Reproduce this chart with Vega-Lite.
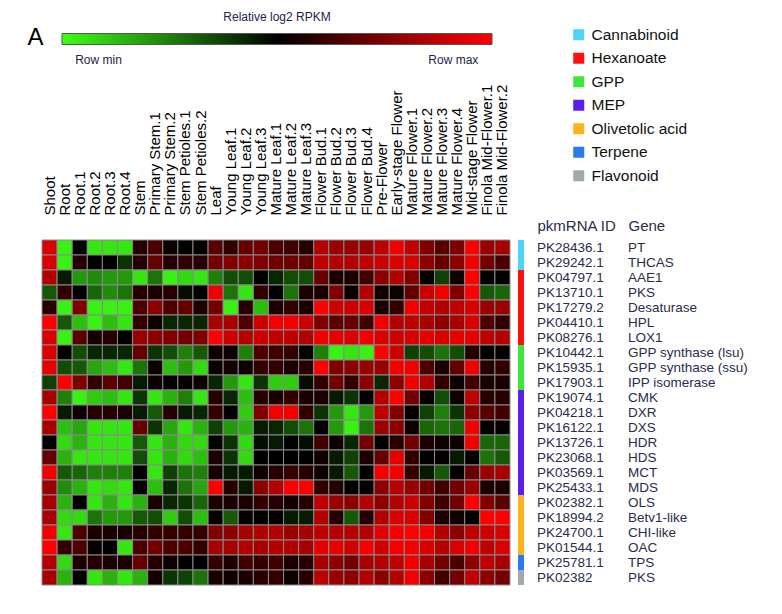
{
"$schema": "https://vega.github.io/schema/vega-lite/v6.json",
"background": "white",
"padding": {"left": 27, "top": 11, "right": 5, "bottom": 5},
"bounds": "flush",
"spacing": 8,
"title": {"text": "A", "anchor": "start", "fontSize": 24, "font": "Liberation Sans", "fontWeight": "normal", "color": "#000000", "dx": -14, "dy": 42},
"config": {"view": {"stroke": null}, "font": "Liberation Sans"},
"datasets": {
"genes": [
{"r":0,"id":"PK28436.1","gene":"PT","path":"Cannabinoid"},
{"r":1,"id":"PK29242.1","gene":"THCAS","path":"Cannabinoid"},
{"r":2,"id":"PK04797.1","gene":"AAE1","path":"Hexanoate"},
{"r":3,"id":"PK13710.1","gene":"PKS","path":"Hexanoate"},
{"r":4,"id":"PK17279.2","gene":"Desaturase","path":"Hexanoate"},
{"r":5,"id":"PK04410.1","gene":"HPL","path":"Hexanoate"},
{"r":6,"id":"PK08276.1","gene":"LOX1","path":"Hexanoate"},
{"r":7,"id":"PK10442.1","gene":"GPP synthase (lsu)","path":"GPP"},
{"r":8,"id":"PK15935.1","gene":"GPP synthase (ssu)","path":"GPP"},
{"r":9,"id":"PK17903.1","gene":"IPP isomerase","path":"GPP"},
{"r":10,"id":"PK19074.1","gene":"CMK","path":"MEP"},
{"r":11,"id":"PK04218.1","gene":"DXR","path":"MEP"},
{"r":12,"id":"PK16122.1","gene":"DXS","path":"MEP"},
{"r":13,"id":"PK13726.1","gene":"HDR","path":"MEP"},
{"r":14,"id":"PK23068.1","gene":"HDS","path":"MEP"},
{"r":15,"id":"PK03569.1","gene":"MCT","path":"MEP"},
{"r":16,"id":"PK25433.1","gene":"MDS","path":"MEP"},
{"r":17,"id":"PK02382.1","gene":"OLS","path":"Olivetolic acid"},
{"r":18,"id":"PK18994.2","gene":"Betv1-like","path":"Olivetolic acid"},
{"r":19,"id":"PK24700.1","gene":"CHI-like","path":"Olivetolic acid"},
{"r":20,"id":"PK01544.1","gene":"OAC","path":"Olivetolic acid"},
{"r":21,"id":"PK25781.1","gene":"TPS","path":"Terpene"},
{"r":22,"id":"PK02382","gene":"PKS","path":"Flavonoid"}
],
"cells": [
{"r":0,"c":0,"v":0.85},{"r":0,"c":1,"v":-0.95},{"r":0,"c":2,"v":0},{"r":0,"c":3,"v":-0.9},{"r":0,"c":4,"v":-0.9},{"r":0,"c":5,"v":-0.9},{"r":0,"c":6,"v":0.15},{"r":0,"c":7,"v":0.3},{"r":0,"c":8,"v":0.05},{"r":0,"c":9,"v":0},{"r":0,"c":10,"v":0.02},{"r":0,"c":11,"v":0.35},{"r":0,"c":12,"v":0.2},{"r":0,"c":13,"v":0.4},{"r":0,"c":14,"v":0.45},{"r":0,"c":15,"v":0.3},{"r":0,"c":16,"v":0.25},{"r":0,"c":17,"v":0.15},{"r":0,"c":18,"v":0.7},{"r":0,"c":19,"v":0.6},{"r":0,"c":20,"v":0.6},{"r":0,"c":21,"v":0.6},{"r":0,"c":22,"v":0.75},{"r":0,"c":23,"v":0.95},{"r":0,"c":24,"v":0.75},{"r":0,"c":25,"v":0.5},{"r":0,"c":26,"v":0.35},{"r":0,"c":27,"v":0.5},{"r":0,"c":28,"v":1},{"r":0,"c":29,"v":0.6},{"r":0,"c":30,"v":0.65},
{"r":1,"c":0,"v":0.85},{"r":1,"c":1,"v":-0.95},{"r":1,"c":2,"v":0.15},{"r":1,"c":3,"v":0},{"r":1,"c":4,"v":0},{"r":1,"c":5,"v":-0.2},{"r":1,"c":6,"v":0.15},{"r":1,"c":7,"v":0.4},{"r":1,"c":8,"v":0.15},{"r":1,"c":9,"v":0.2},{"r":1,"c":10,"v":0.15},{"r":1,"c":11,"v":0.45},{"r":1,"c":12,"v":0.5},{"r":1,"c":13,"v":0.55},{"r":1,"c":14,"v":0.5},{"r":1,"c":15,"v":0.45},{"r":1,"c":16,"v":0.45},{"r":1,"c":17,"v":0.4},{"r":1,"c":18,"v":0.75},{"r":1,"c":19,"v":0.7},{"r":1,"c":20,"v":0.7},{"r":1,"c":21,"v":0.75},{"r":1,"c":22,"v":0.8},{"r":1,"c":23,"v":0.85},{"r":1,"c":24,"v":0.85},{"r":1,"c":25,"v":0.55},{"r":1,"c":26,"v":0.4},{"r":1,"c":27,"v":0.55},{"r":1,"c":28,"v":0.95},{"r":1,"c":29,"v":0.45},{"r":1,"c":30,"v":0.3},
{"r":2,"c":0,"v":0.7},{"r":2,"c":1,"v":-0.1},{"r":2,"c":2,"v":-0.6},{"r":2,"c":3,"v":-0.55},{"r":2,"c":4,"v":-0.6},{"r":2,"c":5,"v":-0.6},{"r":2,"c":6,"v":-0.9},{"r":2,"c":7,"v":-0.45},{"r":2,"c":8,"v":-0.95},{"r":2,"c":9,"v":-0.85},{"r":2,"c":10,"v":-0.9},{"r":2,"c":11,"v":-0.5},{"r":2,"c":12,"v":-0.3},{"r":2,"c":13,"v":-0.3},{"r":2,"c":14,"v":0},{"r":2,"c":15,"v":-0.15},{"r":2,"c":16,"v":-0.3},{"r":2,"c":17,"v":-0.3},{"r":2,"c":18,"v":0.4},{"r":2,"c":19,"v":0.1},{"r":2,"c":20,"v":0.1},{"r":2,"c":21,"v":0.25},{"r":2,"c":22,"v":0.55},{"r":2,"c":23,"v":0.7},{"r":2,"c":24,"v":0.5},{"r":2,"c":25,"v":0.02},{"r":2,"c":26,"v":-0.25},{"r":2,"c":27,"v":0.05},{"r":2,"c":28,"v":1},{"r":2,"c":29,"v":0},{"r":2,"c":30,"v":0},
{"r":3,"c":0,"v":-0.35},{"r":3,"c":1,"v":0.2},{"r":3,"c":2,"v":0},{"r":3,"c":3,"v":-0.4},{"r":3,"c":4,"v":-0.55},{"r":3,"c":5,"v":-0.45},{"r":3,"c":6,"v":0.15},{"r":3,"c":7,"v":0.1},{"r":3,"c":8,"v":0.15},{"r":3,"c":9,"v":-0.05},{"r":3,"c":10,"v":0},{"r":3,"c":11,"v":0.95},{"r":3,"c":12,"v":-0.45},{"r":3,"c":13,"v":-0.9},{"r":3,"c":14,"v":0.2},{"r":3,"c":15,"v":0},{"r":3,"c":16,"v":-0.45},{"r":3,"c":17,"v":0.1},{"r":3,"c":18,"v":0.1},{"r":3,"c":19,"v":0.5},{"r":3,"c":20,"v":0.05},{"r":3,"c":21,"v":0.7},{"r":3,"c":22,"v":0.08},{"r":3,"c":23,"v":0.05},{"r":3,"c":24,"v":0.4},{"r":3,"c":25,"v":0.8},{"r":3,"c":26,"v":0.95},{"r":3,"c":27,"v":0.5},{"r":3,"c":28,"v":1},{"r":3,"c":29,"v":-0.35},{"r":3,"c":30,"v":-0.4},
{"r":4,"c":0,"v":0.15},{"r":4,"c":1,"v":-0.95},{"r":4,"c":2,"v":0.5},{"r":4,"c":3,"v":-0.95},{"r":4,"c":4,"v":-0.95},{"r":4,"c":5,"v":-0.95},{"r":4,"c":6,"v":0.3},{"r":4,"c":7,"v":0.55},{"r":4,"c":8,"v":0.3},{"r":4,"c":9,"v":0.4},{"r":4,"c":10,"v":0.1},{"r":4,"c":11,"v":0.45},{"r":4,"c":12,"v":-0.95},{"r":4,"c":13,"v":0.15},{"r":4,"c":14,"v":-0.75},{"r":4,"c":15,"v":0.1},{"r":4,"c":16,"v":0.2},{"r":4,"c":17,"v":0.1},{"r":4,"c":18,"v":1},{"r":4,"c":19,"v":0.8},{"r":4,"c":20,"v":0.8},{"r":4,"c":21,"v":0.85},{"r":4,"c":22,"v":0.1},{"r":4,"c":23,"v":0.2},{"r":4,"c":24,"v":0.95},{"r":4,"c":25,"v":0.75},{"r":4,"c":26,"v":0.7},{"r":4,"c":27,"v":0.75},{"r":4,"c":28,"v":0.85},{"r":4,"c":29,"v":0.6},{"r":4,"c":30,"v":0.6},
{"r":5,"c":0,"v":1},{"r":5,"c":1,"v":-0.35},{"r":5,"c":2,"v":-0.75},{"r":5,"c":3,"v":-0.95},{"r":5,"c":4,"v":-0.75},{"r":5,"c":5,"v":-0.9},{"r":5,"c":6,"v":0.2},{"r":5,"c":7,"v":0.05},{"r":5,"c":8,"v":-0.15},{"r":5,"c":9,"v":-0.15},{"r":5,"c":10,"v":-0.15},{"r":5,"c":11,"v":0.65},{"r":5,"c":12,"v":0.65},{"r":5,"c":13,"v":0.3},{"r":5,"c":14,"v":0.8},{"r":5,"c":15,"v":0.95},{"r":5,"c":16,"v":0.95},{"r":5,"c":17,"v":0.8},{"r":5,"c":18,"v":0.5},{"r":5,"c":19,"v":0.35},{"r":5,"c":20,"v":0.4},{"r":5,"c":21,"v":0.25},{"r":5,"c":22,"v":0.95},{"r":5,"c":23,"v":0.7},{"r":5,"c":24,"v":0.75},{"r":5,"c":25,"v":0.65},{"r":5,"c":26,"v":0.55},{"r":5,"c":27,"v":0.65},{"r":5,"c":28,"v":0.85},{"r":5,"c":29,"v":0.3},{"r":5,"c":30,"v":0.2},
{"r":6,"c":0,"v":0.85},{"r":6,"c":1,"v":-0.95},{"r":6,"c":2,"v":0.35},{"r":6,"c":3,"v":0.08},{"r":6,"c":4,"v":0.15},{"r":6,"c":5,"v":0},{"r":6,"c":6,"v":0.6},{"r":6,"c":7,"v":0.55},{"r":6,"c":8,"v":0.5},{"r":6,"c":9,"v":0.45},{"r":6,"c":10,"v":0.5},{"r":6,"c":11,"v":1},{"r":6,"c":12,"v":0.8},{"r":6,"c":13,"v":0.7},{"r":6,"c":14,"v":0.8},{"r":6,"c":15,"v":0.75},{"r":6,"c":16,"v":0.75},{"r":6,"c":17,"v":0.7},{"r":6,"c":18,"v":0.95},{"r":6,"c":19,"v":0.9},{"r":6,"c":20,"v":0.85},{"r":6,"c":21,"v":0.95},{"r":6,"c":22,"v":0.85},{"r":6,"c":23,"v":0.8},{"r":6,"c":24,"v":0.85},{"r":6,"c":25,"v":0.9},{"r":6,"c":26,"v":0.85},{"r":6,"c":27,"v":0.9},{"r":6,"c":28,"v":0.9},{"r":6,"c":29,"v":0.75},{"r":6,"c":30,"v":0.7},
{"r":7,"c":0,"v":0.85},{"r":7,"c":1,"v":0},{"r":7,"c":2,"v":-0.3},{"r":7,"c":3,"v":-0.15},{"r":7,"c":4,"v":-0.15},{"r":7,"c":5,"v":-0.15},{"r":7,"c":6,"v":0.4},{"r":7,"c":7,"v":-0.2},{"r":7,"c":8,"v":-0.3},{"r":7,"c":9,"v":-0.5},{"r":7,"c":10,"v":-0.35},{"r":7,"c":11,"v":0.05},{"r":7,"c":12,"v":0.05},{"r":7,"c":13,"v":-0.5},{"r":7,"c":14,"v":0.3},{"r":7,"c":15,"v":0.25},{"r":7,"c":16,"v":0.2},{"r":7,"c":17,"v":0},{"r":7,"c":18,"v":-0.5},{"r":7,"c":19,"v":-0.95},{"r":7,"c":20,"v":-0.9},{"r":7,"c":21,"v":-0.95},{"r":7,"c":22,"v":1},{"r":7,"c":23,"v":0.8},{"r":7,"c":24,"v":-0.25},{"r":7,"c":25,"v":-0.3},{"r":7,"c":26,"v":-0.45},{"r":7,"c":27,"v":-0.3},{"r":7,"c":28,"v":0.15},{"r":7,"c":29,"v":0},{"r":7,"c":30,"v":0.02},
{"r":8,"c":0,"v":0.9},{"r":8,"c":1,"v":-0.3},{"r":8,"c":2,"v":-0.35},{"r":8,"c":3,"v":-0.65},{"r":8,"c":4,"v":-0.75},{"r":8,"c":5,"v":-0.9},{"r":8,"c":6,"v":-0.45},{"r":8,"c":7,"v":0.05},{"r":8,"c":8,"v":-0.75},{"r":8,"c":9,"v":-0.6},{"r":8,"c":10,"v":-0.85},{"r":8,"c":11,"v":0.05},{"r":8,"c":12,"v":0.08},{"r":8,"c":13,"v":0.05},{"r":8,"c":14,"v":0.2},{"r":8,"c":15,"v":0.2},{"r":8,"c":16,"v":0.1},{"r":8,"c":17,"v":0.15},{"r":8,"c":18,"v":1},{"r":8,"c":19,"v":0.5},{"r":8,"c":20,"v":0.55},{"r":8,"c":21,"v":0.6},{"r":8,"c":22,"v":0.6},{"r":8,"c":23,"v":0.95},{"r":8,"c":24,"v":0.95},{"r":8,"c":25,"v":0.3},{"r":8,"c":26,"v":0.1},{"r":8,"c":27,"v":0.4},{"r":8,"c":28,"v":0.95},{"r":8,"c":29,"v":0.15},{"r":8,"c":30,"v":0.2},
{"r":9,"c":0,"v":-0.25},{"r":9,"c":1,"v":1},{"r":9,"c":2,"v":0.5},{"r":9,"c":3,"v":0.2},{"r":9,"c":4,"v":0.35},{"r":9,"c":5,"v":0.25},{"r":9,"c":6,"v":-0.1},{"r":9,"c":7,"v":0.05},{"r":9,"c":8,"v":0},{"r":9,"c":9,"v":0.02},{"r":9,"c":10,"v":0.05},{"r":9,"c":11,"v":-0.15},{"r":9,"c":12,"v":-0.6},{"r":9,"c":13,"v":-0.9},{"r":9,"c":14,"v":-0.2},{"r":9,"c":15,"v":-0.8},{"r":9,"c":16,"v":-0.8},{"r":9,"c":17,"v":-0.05},{"r":9,"c":18,"v":0.2},{"r":9,"c":19,"v":0.45},{"r":9,"c":20,"v":0.2},{"r":9,"c":21,"v":0.55},{"r":9,"c":22,"v":-0.15},{"r":9,"c":23,"v":0.55},{"r":9,"c":24,"v":0.95},{"r":9,"c":25,"v":0.7},{"r":9,"c":26,"v":0.2},{"r":9,"c":27,"v":0.05},{"r":9,"c":28,"v":0.25},{"r":9,"c":29,"v":0.1},{"r":9,"c":30,"v":0.1},
{"r":10,"c":0,"v":0.65},{"r":10,"c":1,"v":-0.5},{"r":10,"c":2,"v":-0.95},{"r":10,"c":3,"v":-0.8},{"r":10,"c":4,"v":-0.75},{"r":10,"c":5,"v":-0.9},{"r":10,"c":6,"v":-0.2},{"r":10,"c":7,"v":-0.9},{"r":10,"c":8,"v":-0.7},{"r":10,"c":9,"v":-0.5},{"r":10,"c":10,"v":-0.9},{"r":10,"c":11,"v":0.15},{"r":10,"c":12,"v":-0.15},{"r":10,"c":13,"v":-0.75},{"r":10,"c":14,"v":0.15},{"r":10,"c":15,"v":0.1},{"r":10,"c":16,"v":0.2},{"r":10,"c":17,"v":0.1},{"r":10,"c":18,"v":0.1},{"r":10,"c":19,"v":-0.1},{"r":10,"c":20,"v":-0.2},{"r":10,"c":21,"v":0},{"r":10,"c":22,"v":0.7},{"r":10,"c":23,"v":1},{"r":10,"c":24,"v":0.45},{"r":10,"c":25,"v":0.02},{"r":10,"c":26,"v":-0.3},{"r":10,"c":27,"v":0.05},{"r":10,"c":28,"v":0.75},{"r":10,"c":29,"v":0.15},{"r":10,"c":30,"v":0.15},
{"r":11,"c":0,"v":1},{"r":11,"c":1,"v":-0.1},{"r":11,"c":2,"v":0.05},{"r":11,"c":3,"v":0.15},{"r":11,"c":4,"v":0.15},{"r":11,"c":5,"v":0.1},{"r":11,"c":6,"v":-0.1},{"r":11,"c":7,"v":-0.35},{"r":11,"c":8,"v":0.15},{"r":11,"c":9,"v":-0.1},{"r":11,"c":10,"v":-0.15},{"r":11,"c":11,"v":0.2},{"r":11,"c":12,"v":0},{"r":11,"c":13,"v":-0.8},{"r":11,"c":14,"v":0.5},{"r":11,"c":15,"v":0.95},{"r":11,"c":16,"v":0.95},{"r":11,"c":17,"v":0.2},{"r":11,"c":18,"v":-0.2},{"r":11,"c":19,"v":-0.6},{"r":11,"c":20,"v":-0.9},{"r":11,"c":21,"v":-0.6},{"r":11,"c":22,"v":0.75},{"r":11,"c":23,"v":0.5},{"r":11,"c":24,"v":0.02},{"r":11,"c":25,"v":-0.25},{"r":11,"c":26,"v":-0.5},{"r":11,"c":27,"v":-0.2},{"r":11,"c":28,"v":0.55},{"r":11,"c":29,"v":0.35},{"r":11,"c":30,"v":0.25},
{"r":12,"c":0,"v":0.65},{"r":12,"c":1,"v":-0.75},{"r":12,"c":2,"v":-0.65},{"r":12,"c":3,"v":-0.9},{"r":12,"c":4,"v":-0.9},{"r":12,"c":5,"v":-0.9},{"r":12,"c":6,"v":0.4},{"r":12,"c":7,"v":-0.2},{"r":12,"c":8,"v":-0.65},{"r":12,"c":9,"v":-0.9},{"r":12,"c":10,"v":-0.7},{"r":12,"c":11,"v":-0.25},{"r":12,"c":12,"v":-0.6},{"r":12,"c":13,"v":-0.7},{"r":12,"c":14,"v":-0.1},{"r":12,"c":15,"v":-0.15},{"r":12,"c":16,"v":-0.3},{"r":12,"c":17,"v":-0.45},{"r":12,"c":18,"v":0},{"r":12,"c":19,"v":-0.6},{"r":12,"c":20,"v":-0.95},{"r":12,"c":21,"v":-0.45},{"r":12,"c":22,"v":0.6},{"r":12,"c":23,"v":0.55},{"r":12,"c":24,"v":0.05},{"r":12,"c":25,"v":-0.4},{"r":12,"c":26,"v":-0.45},{"r":12,"c":27,"v":-0.4},{"r":12,"c":28,"v":0.95},{"r":12,"c":29,"v":0},{"r":12,"c":30,"v":0.02},
{"r":13,"c":0,"v":0.02},{"r":13,"c":1,"v":-0.85},{"r":13,"c":2,"v":-0.7},{"r":13,"c":3,"v":-0.9},{"r":13,"c":4,"v":-0.9},{"r":13,"c":5,"v":-0.9},{"r":13,"c":6,"v":-0.35},{"r":13,"c":7,"v":-0.9},{"r":13,"c":8,"v":-0.7},{"r":13,"c":9,"v":-0.85},{"r":13,"c":10,"v":-0.85},{"r":13,"c":11,"v":0},{"r":13,"c":12,"v":-0.2},{"r":13,"c":13,"v":-0.85},{"r":13,"c":14,"v":-0.05},{"r":13,"c":15,"v":-0.1},{"r":13,"c":16,"v":0},{"r":13,"c":17,"v":-0.05},{"r":13,"c":18,"v":0.25},{"r":13,"c":19,"v":0.05},{"r":13,"c":20,"v":-0.15},{"r":13,"c":21,"v":0.45},{"r":13,"c":22,"v":0},{"r":13,"c":23,"v":0.15},{"r":13,"c":24,"v":0.45},{"r":13,"c":25,"v":0.1},{"r":13,"c":26,"v":0.05},{"r":13,"c":27,"v":0.05},{"r":13,"c":28,"v":0.95},{"r":13,"c":29,"v":-0.4},{"r":13,"c":30,"v":-0.4},
{"r":14,"c":0,"v":0.4},{"r":14,"c":1,"v":-0.7},{"r":14,"c":2,"v":-0.9},{"r":14,"c":3,"v":-0.9},{"r":14,"c":4,"v":-0.9},{"r":14,"c":5,"v":-0.9},{"r":14,"c":6,"v":-0.3},{"r":14,"c":7,"v":-0.9},{"r":14,"c":8,"v":-0.7},{"r":14,"c":9,"v":-0.85},{"r":14,"c":10,"v":-0.75},{"r":14,"c":11,"v":0.1},{"r":14,"c":12,"v":-0.2},{"r":14,"c":13,"v":-0.85},{"r":14,"c":14,"v":0},{"r":14,"c":15,"v":0},{"r":14,"c":16,"v":0},{"r":14,"c":17,"v":0},{"r":14,"c":18,"v":0.05},{"r":14,"c":19,"v":-0.1},{"r":14,"c":20,"v":-0.25},{"r":14,"c":21,"v":0.1},{"r":14,"c":22,"v":0.4},{"r":14,"c":23,"v":0.9},{"r":14,"c":24,"v":0.2},{"r":14,"c":25,"v":0},{"r":14,"c":26,"v":0.02},{"r":14,"c":27,"v":-0.1},{"r":14,"c":28,"v":0},{"r":14,"c":29,"v":-0.45},{"r":14,"c":30,"v":-0.35},
{"r":15,"c":0,"v":0.95},{"r":15,"c":1,"v":-0.35},{"r":15,"c":2,"v":-0.4},{"r":15,"c":3,"v":-0.5},{"r":15,"c":4,"v":-0.5},{"r":15,"c":5,"v":-0.5},{"r":15,"c":6,"v":0},{"r":15,"c":7,"v":-0.9},{"r":15,"c":8,"v":-0.25},{"r":15,"c":9,"v":-0.45},{"r":15,"c":10,"v":-0.5},{"r":15,"c":11,"v":0.08},{"r":15,"c":12,"v":-0.1},{"r":15,"c":13,"v":-0.1},{"r":15,"c":14,"v":0.05},{"r":15,"c":15,"v":0.15},{"r":15,"c":16,"v":0.2},{"r":15,"c":17,"v":0.15},{"r":15,"c":18,"v":0.05},{"r":15,"c":19,"v":-0.1},{"r":15,"c":20,"v":-0.35},{"r":15,"c":21,"v":0},{"r":15,"c":22,"v":0.95},{"r":15,"c":23,"v":0.95},{"r":15,"c":24,"v":0.2},{"r":15,"c":25,"v":-0.1},{"r":15,"c":26,"v":-0.35},{"r":15,"c":27,"v":0.02},{"r":15,"c":28,"v":0.4},{"r":15,"c":29,"v":0.6},{"r":15,"c":30,"v":0.65},
{"r":16,"c":0,"v":0.6},{"r":16,"c":1,"v":-0.55},{"r":16,"c":2,"v":-0.7},{"r":16,"c":3,"v":-0.9},{"r":16,"c":4,"v":-0.85},{"r":16,"c":5,"v":-0.9},{"r":16,"c":6,"v":0},{"r":16,"c":7,"v":-0.75},{"r":16,"c":8,"v":-0.15},{"r":16,"c":9,"v":-0.45},{"r":16,"c":10,"v":-0.65},{"r":16,"c":11,"v":1},{"r":16,"c":12,"v":0.15},{"r":16,"c":13,"v":-0.1},{"r":16,"c":14,"v":0.55},{"r":16,"c":15,"v":0.7},{"r":16,"c":16,"v":1},{"r":16,"c":17,"v":1},{"r":16,"c":18,"v":0.2},{"r":16,"c":19,"v":0.15},{"r":16,"c":20,"v":0},{"r":16,"c":21,"v":0.02},{"r":16,"c":22,"v":0.55},{"r":16,"c":23,"v":0.7},{"r":16,"c":24,"v":0.6},{"r":16,"c":25,"v":0.45},{"r":16,"c":26,"v":0.25},{"r":16,"c":27,"v":0.45},{"r":16,"c":28,"v":0.6},{"r":16,"c":29,"v":0.1},{"r":16,"c":30,"v":0.1},
{"r":17,"c":0,"v":0.65},{"r":17,"c":1,"v":-0.7},{"r":17,"c":2,"v":0},{"r":17,"c":3,"v":-0.9},{"r":17,"c":4,"v":-0.7},{"r":17,"c":5,"v":-0.9},{"r":17,"c":6,"v":-0.7},{"r":17,"c":7,"v":0.1},{"r":17,"c":8,"v":-0.15},{"r":17,"c":9,"v":-0.2},{"r":17,"c":10,"v":-0.4},{"r":17,"c":11,"v":0.1},{"r":17,"c":12,"v":0.1},{"r":17,"c":13,"v":0.1},{"r":17,"c":14,"v":0.2},{"r":17,"c":15,"v":0.15},{"r":17,"c":16,"v":0.08},{"r":17,"c":17,"v":0.15},{"r":17,"c":18,"v":0.75},{"r":17,"c":19,"v":0.6},{"r":17,"c":20,"v":0.55},{"r":17,"c":21,"v":0.7},{"r":17,"c":22,"v":0.55},{"r":17,"c":23,"v":0.7},{"r":17,"c":24,"v":0.8},{"r":17,"c":25,"v":0.5},{"r":17,"c":26,"v":0.25},{"r":17,"c":27,"v":0.45},{"r":17,"c":28,"v":1},{"r":17,"c":29,"v":0.5},{"r":17,"c":30,"v":0.35},
{"r":18,"c":0,"v":0.65},{"r":18,"c":1,"v":-0.85},{"r":18,"c":2,"v":-0.85},{"r":18,"c":3,"v":-0.45},{"r":18,"c":4,"v":-0.6},{"r":18,"c":5,"v":-0.6},{"r":18,"c":6,"v":-0.35},{"r":18,"c":7,"v":-0.3},{"r":18,"c":8,"v":-0.8},{"r":18,"c":9,"v":-0.3},{"r":18,"c":10,"v":-0.75},{"r":18,"c":11,"v":0},{"r":18,"c":12,"v":-0.35},{"r":18,"c":13,"v":0},{"r":18,"c":14,"v":0},{"r":18,"c":15,"v":0},{"r":18,"c":16,"v":-0.1},{"r":18,"c":17,"v":-0.1},{"r":18,"c":18,"v":0.7},{"r":18,"c":19,"v":0.15},{"r":18,"c":20,"v":-0.35},{"r":18,"c":21,"v":0.15},{"r":18,"c":22,"v":0.7},{"r":18,"c":23,"v":0.85},{"r":18,"c":24,"v":0.85},{"r":18,"c":25,"v":0.5},{"r":18,"c":26,"v":0.1},{"r":18,"c":27,"v":0.05},{"r":18,"c":28,"v":0},{"r":18,"c":29,"v":1},{"r":18,"c":30,"v":1},
{"r":19,"c":0,"v":0.95},{"r":19,"c":1,"v":-0.9},{"r":19,"c":2,"v":0.3},{"r":19,"c":3,"v":0.1},{"r":19,"c":4,"v":0.1},{"r":19,"c":5,"v":0.1},{"r":19,"c":6,"v":0.15},{"r":19,"c":7,"v":0.2},{"r":19,"c":8,"v":0.2},{"r":19,"c":9,"v":0.2},{"r":19,"c":10,"v":0.2},{"r":19,"c":11,"v":0.5},{"r":19,"c":12,"v":0.55},{"r":19,"c":13,"v":0.65},{"r":19,"c":14,"v":0.7},{"r":19,"c":15,"v":0.7},{"r":19,"c":16,"v":0.6},{"r":19,"c":17,"v":0.65},{"r":19,"c":18,"v":0.75},{"r":19,"c":19,"v":0.7},{"r":19,"c":20,"v":0.7},{"r":19,"c":21,"v":0.7},{"r":19,"c":22,"v":0.9},{"r":19,"c":23,"v":0.95},{"r":19,"c":24,"v":1},{"r":19,"c":25,"v":0.95},{"r":19,"c":26,"v":0.7},{"r":19,"c":27,"v":0.55},{"r":19,"c":28,"v":0.75},{"r":19,"c":29,"v":0.8},{"r":19,"c":30,"v":0.85},
{"r":20,"c":0,"v":1},{"r":20,"c":1,"v":0.2},{"r":20,"c":2,"v":0.3},{"r":20,"c":3,"v":0.02},{"r":20,"c":4,"v":0},{"r":20,"c":5,"v":-0.9},{"r":20,"c":6,"v":0.3},{"r":20,"c":7,"v":0.45},{"r":20,"c":8,"v":0.3},{"r":20,"c":9,"v":0.3},{"r":20,"c":10,"v":0.2},{"r":20,"c":11,"v":0.65},{"r":20,"c":12,"v":0.65},{"r":20,"c":13,"v":0.7},{"r":20,"c":14,"v":0.65},{"r":20,"c":15,"v":0.7},{"r":20,"c":16,"v":0.7},{"r":20,"c":17,"v":0.65},{"r":20,"c":18,"v":0.9},{"r":20,"c":19,"v":0.9},{"r":20,"c":20,"v":0.8},{"r":20,"c":21,"v":0.95},{"r":20,"c":22,"v":0.8},{"r":20,"c":23,"v":0.95},{"r":20,"c":24,"v":0.95},{"r":20,"c":25,"v":0.85},{"r":20,"c":26,"v":0.7},{"r":20,"c":27,"v":0.85},{"r":20,"c":28,"v":0.95},{"r":20,"c":29,"v":0.75},{"r":20,"c":30,"v":0.85},
{"r":21,"c":0,"v":0.7},{"r":21,"c":1,"v":-0.85},{"r":21,"c":2,"v":0.1},{"r":21,"c":3,"v":0.15},{"r":21,"c":4,"v":0.1},{"r":21,"c":5,"v":0.1},{"r":21,"c":6,"v":0.4},{"r":21,"c":7,"v":0.15},{"r":21,"c":8,"v":0.05},{"r":21,"c":9,"v":0},{"r":21,"c":10,"v":0},{"r":21,"c":11,"v":0.2},{"r":21,"c":12,"v":0.1},{"r":21,"c":13,"v":0.25},{"r":21,"c":14,"v":0.2},{"r":21,"c":15,"v":0.25},{"r":21,"c":16,"v":0.1},{"r":21,"c":17,"v":0.15},{"r":21,"c":18,"v":0.65},{"r":21,"c":19,"v":0.55},{"r":21,"c":20,"v":0.45},{"r":21,"c":21,"v":0.65},{"r":21,"c":22,"v":0.7},{"r":21,"c":23,"v":0.75},{"r":21,"c":24,"v":0.95},{"r":21,"c":25,"v":0.65},{"r":21,"c":26,"v":0.45},{"r":21,"c":27,"v":0.3},{"r":21,"c":28,"v":0.55},{"r":21,"c":29,"v":0.75},{"r":21,"c":30,"v":0.65},
{"r":22,"c":0,"v":0.65},{"r":22,"c":1,"v":-0.7},{"r":22,"c":2,"v":0},{"r":22,"c":3,"v":-0.9},{"r":22,"c":4,"v":-0.7},{"r":22,"c":5,"v":-0.9},{"r":22,"c":6,"v":-0.7},{"r":22,"c":7,"v":0.08},{"r":22,"c":8,"v":-0.2},{"r":22,"c":9,"v":-0.25},{"r":22,"c":10,"v":-0.45},{"r":22,"c":11,"v":0.1},{"r":22,"c":12,"v":0.05},{"r":22,"c":13,"v":0.1},{"r":22,"c":14,"v":0.15},{"r":22,"c":15,"v":0.2},{"r":22,"c":16,"v":0.05},{"r":22,"c":17,"v":0.15},{"r":22,"c":18,"v":0.75},{"r":22,"c":19,"v":0.6},{"r":22,"c":20,"v":0.55},{"r":22,"c":21,"v":0.7},{"r":22,"c":22,"v":0.55},{"r":22,"c":23,"v":0.7},{"r":22,"c":24,"v":0.95},{"r":22,"c":25,"v":0.55},{"r":22,"c":26,"v":0.25},{"r":22,"c":27,"v":0.45},{"r":22,"c":28,"v":0.75},{"r":22,"c":29,"v":0.55},{"r":22,"c":30,"v":0.45}
]
},
"hconcat": [
{
"width": 468, "height": 345,
"data": {"name": "cells"},
"mark": {"type": "rect", "stroke": "#8a8a8a", "strokeWidth": 1},
"encoding": {
"x": {"field": "c", "type": "ordinal", "scale": {"paddingInner": 0, "paddingOuter": 0},
"axis": {"orient": "top", "title": null, "labelAngle": -90, "labelAlign": "left", "labelBaseline": "middle", "ticks": false, "tickSize": 0, "domain": false, "labelPadding": 25, "labelFontSize": 15, "labelFont": "Liberation Sans", "labelColor": "#000000", "labelOverlap": false, "labelLimit": 300,
"labelExpr": "['Shoot','Root','Root.1','Root.2','Root.3','Root.4','Stem','Primary Stem.1','Primary Stem.2','Stem Petioles.1','Stem Petioles.2','Leaf','Young Leaf.1','Young Leaf.2','Young Leaf.3','Mature Leaf.1','Mature Leaf.2','Mature Leaf.3','Flower Bud.1','Flower Bud.2','Flower Bud.3','Flower Bud.4','Pre-Flower','Early-stage Flower','Mature Flower.1','Mature Flower.2','Mature Flower.3','Mature Flower.4','Mid-stage Flower','Finola Mid-Flower.1','Finola Mid-Flower.2'][datum.value]"}},
"y": {"field": "r", "type": "ordinal", "scale": {"paddingInner": 0, "paddingOuter": 0}, "axis": null},
"color": {"field": "v", "type": "quantitative",
"scale": {"domain": [-1, 0, 1], "range": ["#3cff14", "#000000", "#ff0000"], "interpolate": "rgb"},
"legend": {"orient": "none", "legendX": 20, "legendY": -228.5, "direction": "horizontal", "gradientLength": 430, "gradientThickness": 11,
"title": "Relative log2 RPKM", "titleFontSize": 12, "titleFont": "Liberation Sans", "titleFontWeight": "normal", "titleColor": "#23234a", "titleAnchor": "middle", "titleAlign": "center", "titlePadding": 10,
"values": [-0.83, 0.82], "labelExpr": "datum.value < 0 ? 'Row min' : 'Row max'", "labelFontSize": 12, "labelFont": "Liberation Sans", "labelColor": "#23234a", "labelOffset": 10,
"gradientStrokeColor": "#555555", "gradientStrokeWidth": 1, "padding": 0}}
}
},
{
"width": 6, "height": 345,
"data": {"name": "genes"},
"mark": {"type": "rect"},
"encoding": {
"y": {"field": "r", "type": "ordinal", "scale": {"paddingInner": 0, "paddingOuter": 0}, "axis": null},
"color": {"field": "path", "type": "nominal",
"scale": {"domain": ["Cannabinoid", "Hexanoate", "GPP", "MEP", "Olivetolic acid", "Terpene", "Flavonoid"], "range": ["#4fd3f7", "#ff1010", "#3ee63e", "#5a1ef0", "#ffb31a", "#2a7bf0", "#a0aaaa"]},
"legend": {"orient": "none", "legendX": 53, "legendY": -213, "title": null, "symbolType": "square", "symbolSize": 121, "symbolStrokeWidth": 0, "labelFontSize": 15.5, "labelFont": "Liberation Sans", "labelColor": "#111111", "labelOffset": 5, "rowPadding": 6.5, "padding": 0}}
}
},
{
"width": 91, "height": 345,
"data": {"name": "genes"},
"transform": [{"fold": ["id", "gene"], "as": ["key", "text"]}],
"mark": {"type": "text", "align": "left", "baseline": "middle", "dx": 5, "fontSize": 13.5, "font": "Liberation Sans", "color": "#2b2b4b"},
"encoding": {
"x": {"field": "key", "type": "nominal", "sort": ["id", "gene"], "scale": {"type": "point", "padding": 0},
"axis": {"orient": "top", "title": null, "labelExpr": "datum.value == 'id' ? 'pkmRNA ID' : 'Gene'", "labelAngle": 0, "labelAlign": "left", "labelOffset": 5, "ticks": false, "tickSize": 0, "domain": false, "labelPadding": 7, "labelFontSize": 15, "labelFont": "Liberation Sans", "labelColor": "#2b2b4b"}},
"y": {"field": "r", "type": "ordinal", "scale": {"type": "band", "paddingInner": 0, "paddingOuter": 0}, "axis": null},
"text": {"field": "text"}
}
}
],
"resolve": {"scale": {"color": "independent"}, "legend": {"color": "independent"}}
}
